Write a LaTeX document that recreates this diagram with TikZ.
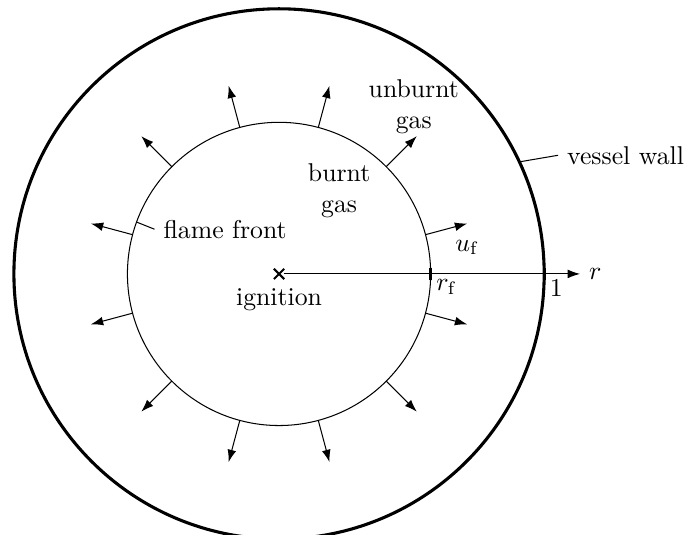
\documentclass[tikz,border=0pt]{standalone}
\usepackage{amsmath}
\usepackage{tikz}
\usetikzlibrary{arrows.meta,positioning,shapes.misc}

\begin{document}
\begin{tikzpicture}[
  front/.style={thin},
  wall/.style={very thick},
  flow/.style={-{Latex[length=4.8pt, width=3.4pt]}},
  axistick/.style={line width=1.3pt},
  leader/.style={thin}
]
\def\rf{2.07}
\def\rw{3.62}
\useasboundingbox (-3.81,-3.56) rectangle (5.57,3.74);

\draw[wall] (0,0) circle (\rw);
\draw[front] (0,0) circle (\rf);

\foreach \a [count=\i] in {15,45,...,345}
  \draw[flow] (\a:\rf) -- (\a:2.66) coordinate (u\i);

\node[draw, cross out, thick, minimum size=3.2pt, inner sep=0pt] (ign) at (0,0) {};
\node[below=0pt of ign] (igntext) {ignition};

\coordinate (rfmark) at (\rf,0);
\coordinate (rwmark) at (\rw,0);
\coordinate (axisend) at (4.11,0);
\draw[flow] (ign) -- (axisend);
\node[right] (rtext) at (axisend) {$r$};
\draw[axistick] ([yshift=-2.2pt]rfmark) -- ([yshift=2.2pt]rfmark);
\draw[axistick] ([yshift=-2.2pt]rwmark) -- ([yshift=2.2pt]rwmark);
\node[below right, inner sep=2pt] (rftext) at (rfmark) {$r_\mathrm{f}$};
\node[below right, inner sep=2pt] (onetext) at (rwmark) {$1$};

\node[below=1mm of u1] (uftext) {$u_\mathrm{f}$};
\node[align=center] (burnt) at (0.82,1.13) {burnt\\gas};
\node[align=center] (unburnt) at (1.84,2.28) {unburnt\\gas};

\node[anchor=west] (fronttext) at (-1.70,0.61) {flame front};
\draw[leader] (160:\rf) -- (fronttext.west);
\node[anchor=west] (walltext) at (3.81,1.62) {vessel wall};
\draw[leader] (25:\rw) -- (walltext.west);
\end{tikzpicture}
\end{document}
